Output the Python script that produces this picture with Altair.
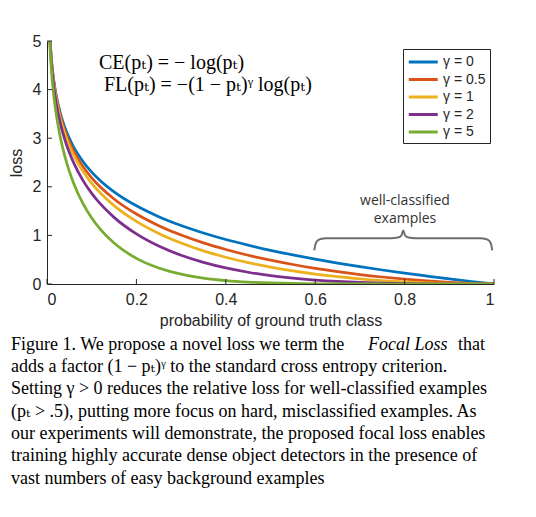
"""Focal loss figure: loss curves for several gamma values."""

import altair as alt
import pandas as pd

# probability of ground truth class
p_values = [0.005, 0.01, 0.015, 0.02, 0.03, 0.04, 0.05, 0.06, 0.08, 0.10,
            0.12, 0.15, 0.20, 0.25, 0.30, 0.35, 0.40, 0.45, 0.50, 0.55,
            0.60, 0.65, 0.70, 0.75, 0.80, 0.85, 0.90, 0.95, 1.00]

loss_g0 = [5.298, 4.605, 4.200, 3.912, 3.507, 3.219, 2.996, 2.813, 2.526, 2.303,
           2.120, 1.897, 1.609, 1.386, 1.204, 1.050, 0.916, 0.799, 0.693, 0.598,
           0.511, 0.431, 0.357, 0.288, 0.223, 0.163, 0.105, 0.051, 0.0]
loss_g05 = [5.285, 4.582, 4.168, 3.873, 3.454, 3.154, 2.920, 2.728, 2.423, 2.184,
            1.989, 1.749, 1.440, 1.201, 1.007, 0.846, 0.710, 0.592, 0.490, 0.401,
            0.323, 0.255, 0.195, 0.144, 0.100, 0.063, 0.033, 0.012, 0.0]
loss_g1 = [5.272, 4.559, 4.137, 3.834, 3.401, 3.090, 2.846, 2.645, 2.324, 2.072,
           1.866, 1.613, 1.288, 1.040, 0.843, 0.682, 0.550, 0.439, 0.347, 0.269,
           0.204, 0.151, 0.107, 0.072, 0.045, 0.024, 0.011, 0.003, 0.0]
loss_g2 = [5.245, 4.514, 4.075, 3.757, 3.299, 2.967, 2.704, 2.486, 2.138, 1.865,
           1.642, 1.371, 1.030, 0.780, 0.590, 0.444, 0.330, 0.242, 0.173, 0.121,
           0.082, 0.053, 0.032, 0.018, 0.009, 0.004, 0.001, 0.0, 0.0]
loss_g5 = [5.167, 4.380, 3.894, 3.536, 3.011, 2.625, 2.318, 2.065, 1.665, 1.360,
           1.119, 0.842, 0.527, 0.329, 0.202, 0.122, 0.071, 0.040, 0.022, 0.011,
           0.005, 0.002, 0.001, 0.0, 0.0, 0.0, 0.0, 0.0, 0.0]

series_labels = ["γ = 0", "γ = 0.5", "γ = 1", "γ = 2", "γ = 5"]
series_colors = ["#0072BD", "#D95319", "#EDB120", "#7E2F8E", "#77AC30"]

# curly brace over the well-classified region
brace_x = [0.598, 0.600, 0.604, 0.612, 0.625, 0.770, 0.785, 0.793, 0.797,
           0.801, 0.809, 0.824, 0.969, 0.982, 0.990, 0.994, 0.996]
brace_y = [0.69, 0.80, 0.88, 0.925, 0.94, 0.94, 0.955, 1.00, 1.10,
           1.00, 0.955, 0.94, 0.94, 0.925, 0.88, 0.80, 0.69]

x_ticks = [0, 0.2, 0.4, 0.6, 0.8, 1]
y_ticks = [0, 1, 2, 3, 4, 5]

caption_lines = [
    "adds a factor (1 − pₜ)ᵞ to the standard cross entropy criterion.",
    "Setting γ > 0 reduces the relative loss for well-classified examples",
    "(pₜ > .5), putting more focus on hard, misclassified examples. As",
    "our experiments will demonstrate, the proposed focal loss enables",
    "training highly accurate dense object detectors in the presence of",
    "vast numbers of easy background examples",
]

W, H = 447, 243
AXIS_COLOR = "#262626"
SANS = "Liberation Sans"
SERIF = "Liberation Serif, DejaVu Serif"

curves = pd.concat(
    [
        pd.DataFrame({"p": p_values, "loss": vals, "gamma": label, "order": i})
        for i, (label, vals) in enumerate(
            zip(series_labels, [loss_g0, loss_g05, loss_g1, loss_g2, loss_g5])
        )
    ],
    ignore_index=True,
)
brace_df = pd.DataFrame({"x": brace_x, "y": brace_y})

x_scale = alt.Scale(domain=[0, 1], nice=False)
y_scale = alt.Scale(domain=[0, 5], nice=False)

lines = (
    alt.Chart(curves)
    .mark_line(strokeWidth=2.75, clip=True, interpolate="monotone")
    .encode(
        x=alt.X(
            "p:Q",
            scale=x_scale,
            title="probability of ground truth class",
            axis=alt.Axis(values=x_ticks, format="~g", labelPadding=7, titlePadding=5),
        ),
        y=alt.Y(
            "loss:Q",
            scale=y_scale,
            title="loss",
            axis=alt.Axis(values=y_ticks, format="d", labelPadding=6, titlePadding=8),
        ),
        color=alt.Color(
            "gamma:N",
            scale=alt.Scale(domain=series_labels, range=series_colors),
            legend=alt.Legend(
                title=None,
                orient="none",
                legendX=356,
                legendY=8,
                # wide flat stroke: 29px long while the entry stays short
                symbolType="M-1,0H3",
                symbolSize=210,
                symbolStrokeWidth=3,
                labelFont=SANS,
                labelFontSize=14,
                labelColor=AXIS_COLOR,
                labelOffset=18,
                padding=4,
                rowPadding=1.5,
                strokeColor=AXIS_COLOR,
                fillColor="white",
            ),
        ),
        order="order:Q",
    )
)

brace = (
    alt.Chart(brace_df)
    .mark_line(color="#6e6e6e", strokeWidth=2, interpolate="monotone")
    .encode(x=alt.X("x:Q", scale=x_scale), y=alt.Y("y:Q", scale=y_scale))
)

x_tick_marks = (
    alt.Chart(pd.DataFrame({"t": x_ticks}))
    .mark_rule(color=AXIS_COLOR, strokeWidth=1)
    .encode(x=alt.X("t:Q", scale=x_scale), y=alt.value(H), y2=alt.value(H - 5))
)
y_tick_marks = (
    alt.Chart(pd.DataFrame({"t": y_ticks}))
    .mark_rule(color=AXIS_COLOR, strokeWidth=1)
    .encode(y=alt.Y("t:Q", scale=y_scale), x=alt.value(0), x2=alt.value(5))
)


def text_at(text, x, y, **kw):
    return (
        alt.Chart(pd.DataFrame({"t": [text]}))
        .mark_text(**kw)
        .encode(text="t:N", x=alt.value(x), y=alt.value(y))
    )


formula_style = dict(font=SERIF, fontSize=20, color="black", align="left", baseline="alphabetic")
ce_text = text_at("CE(pₜ) = − log(pₜ)", 52, 28, **formula_style)
fl_text = text_at("FL(pₜ) = −(1 − pₜ)ᵞ log(pₜ)", 57, 50, **formula_style)

note_style = dict(font="Open Sans", fontSize=14, color="#333333", align="center", baseline="middle")
note1 = text_at("well-classified", 358, 160, **note_style)
note2 = text_at("examples", 358, 178, **note_style)

cap_style = dict(font=SERIF, fontSize=18, color="black", align="left", baseline="alphabetic")
caption = [
    text_at("Figure 1. We propose a novel loss we term the", -36, 309, **cap_style),
    text_at("Focal Loss", 321, 309, fontStyle="italic", **cap_style),
    text_at("that", 438, 309, **{**cap_style, "align": "right"}),
]
for i, line in enumerate(caption_lines):
    caption.append(text_at(line, -36, 331 + i * 22.3, **cap_style))

chart = (
    alt.layer(lines, brace, x_tick_marks, y_tick_marks, ce_text, fl_text, note1, note2, *caption)
    .properties(
        width=W,
        height=H,
        autosize=alt.AutoSizeParams(type="none"),
        padding={"left": 39, "top": 33, "right": 34, "bottom": 225},
        background="white",
    )
    .configure_view(strokeWidth=0)
    .configure_axis(
        grid=False,
        ticks=False,
        domainColor=AXIS_COLOR,
        domainWidth=1,
        labelFont=SANS,
        labelFontSize=16,
        labelColor=AXIS_COLOR,
        titleFont=SANS,
        titleFontSize=16,
        titleFontWeight="normal",
        titleColor=AXIS_COLOR,
    )
)

chart.save("out.html", embed_options={"renderer": "svg", "actions": False})
